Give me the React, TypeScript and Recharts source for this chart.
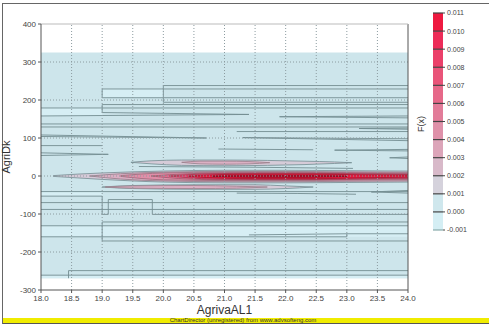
import React from 'react'
import { Area, ComposedChart, Label, Line, ReferenceLine, XAxis, YAxis } from 'recharts'

// axis ticks
const xTicks = [18, 18.5, 19, 19.5, 20, 20.5, 21, 21.5, 22, 22.5, 23, 23.5, 24]
const yTicks = [-300, -200, -100, 0, 100, 200, 300, 400]
const xGrid = [18.5, 19, 19.5, 20, 20.5, 21, 21.5, 22, 22.5, 23, 23.5]
const yGrid = [-200, -100, 0, 100, 200, 300]

// colour scale F(x)
const legendLevels = [-0.001, 0, 0.001, 0.002, 0.003, 0.004, 0.005, 0.006, 0.007, 0.008, 0.009, 0.01, 0.011]
const legendColors = [
  '#d4eef4', '#cfe7ed', '#d5d2dc', '#d8b9c9', '#dca5b9', '#df91a9', '#e27c99',
  '#e66889', '#e95479', '#eb4069', '#ed2c58', '#ee1a40',
]

// filled regions: [x, low, high]
const dataExtent: number[][] = [[18, -269, 325], [24, -269, 325]]
const lightBandA: number[][] = [[18, 158, 179], [19, 158, 179]]
const lightBandB: number[][] = [[19, 206, 229], [20, 206, 229]]
const lightBandC: number[][] = [[18, -53, -41], [19, -53, -41]]
const lightBandD: number[][] = [[18, -160, -131], [24, -160, -131]]
const lightBandE: number[][] = [[18, -269, -261], [24, -269, -261]]

const upperLens: number[][] = [[19.47, 36, 36], [19.8, 32, 40], [20.3, 28, 42], [21, 27, 42], [21.7, 28, 41], [22.3, 30, 39], [22.8, 33, 37], [23.08, 35, 35]]
const upperCore: number[][] = [[20.3, 36, 36], [20.6, 32, 39], [21, 31, 39], [21.4, 32, 38], [21.74, 35, 35]]
const lowerLens: number[][] = [[19, -29, -29], [19.5, -33, -25], [20.5, -35, -23], [21.5, -35, -23], [22, -33, -26], [22.45, -29, -29]]
const lowerCore: number[][] = [[19.05, -29, -29], [19.5, -32, -26], [20.5, -33, -25], [21.2, -32, -27], [21.7, -29, -29]]

const ridge1: number[][] = [[18.2, -1, 1], [18.6, -5, 5], [19, -9, 8], [19.5, -13, 11], [20, -16, 13], [21, -18, 15], [22, -18, 15], [23, -17, 14], [24, -16, 13]]
const ridge2: number[][] = [[18.8, 0, 0], [19.3, -8, 6], [20, -13, 10], [21, -15, 12], [22, -15, 12], [23, -14, 11], [24, -13, 10]]
const ridge3: number[][] = [[19.3, -1, 1], [20, -10, 8], [21, -12, 10], [22, -12, 10], [23, -11, 9], [24, -10, 8]]
const ridge4: number[][] = [[19.8, 0, 0], [20.4, -8, 6], [21, -10, 8], [22, -10, 8], [23, -9, 7], [24, -8, 6]]
const ridge5: number[][] = [[20.1, 0, 0], [20.8, -8, 6], [21.5, -9, 7], [22.5, -9, 7], [23.3, -7, 5], [24, -6, 4]]
const ridge6: number[][] = [[20.4, -1, 0], [21, -6, 4], [21.5, -7, 5], [22.5, -7, 5], [23.2, -5, 3], [24, -3, 2]]
const ridge7: number[][] = [[20.8, -1, 0], [21.5, -3, 1], [22.3, -3, 1], [23, -1, 0]]

// contour lines: [x, y]
const lineA: number[][] = [[24, 238], [20, 238], [20, 194], [24, 194]]
const lineB: number[][] = [[24, 229], [19, 229], [19, 206], [24, 206]]
const lineC: number[][] = [[24, 188], [19, 188], [19, 167], [21.4, 162], [18, 158]]
const lineD: number[][] = [[18, 179], [24, 179]]
const lineE: number[][] = [[24, 158], [21.9, 156], [24, 153]]
const lineF: number[][] = [[18, 137], [24, 137]]
const lineG: number[][] = [[18, 129], [24, 129]]
const lineH: number[][] = [[24, 126], [23.2, 125], [24, 123]]
const lineI: number[][] = [[21.2, 117], [24, 117]]
const lineJ: number[][] = [[18, 108], [20.7, 100], [18, 104]]
const lineK: number[][] = [[24, 98], [21.3, 101], [24, 93]]
const lineL: number[][] = [[18, 80], [19, 80]]
const lineM: number[][] = [[20.9, 71], [22.45, 69]]
const lineN: number[][] = [[24, 70], [22.8, 68], [24, 66]]
const lineO: number[][] = [[18, 61], [19.1, 57], [18, 54]]
const lineP: number[][] = [[24, 50], [23.7, 48], [24, 46]]
const lineQ: number[][] = [[19.6, 25], [21.5, 23], [23.1, 20]]
const lineR: number[][] = [[18, -41], [24, -41]]
const lineS: number[][] = [[24, -38], [23.4, -42], [24, -45]]
const lineT: number[][] = [[21.2, -45], [22.2, -46], [23.15, -48]]
const lineU: number[][] = [[18, -53], [19, -53], [19, -101], [19.1, -101], [19.1, -62], [19.82, -62], [19.82, -101], [24, -101]]
const lineV: number[][] = [[18, -70], [24, -70]]
const lineW: number[][] = [[18, -88], [24, -88]]
const lineX: number[][] = [[24, -121], [19, -121], [19, -171], [24, -171]]
const lineY: number[][] = [[18, -131], [24, -131]]
const lineZ: number[][] = [[18, -160], [23, -160], [23, -152], [24, -152]]
const lineZ2: number[][] = [[21.4, -155], [23, -152]]
const lineZ3: number[][] = [[24, -249], [18.45, -249], [18.45, -269]]
const lineZ4: number[][] = [[18, -261], [24, -261]]

const contourLines = [
  lineA, lineB, lineC, lineD, lineE, lineF, lineG, lineH, lineI, lineJ, lineK, lineL, lineM, lineN, lineO,
  lineP, lineQ, lineR, lineS, lineT, lineU, lineV, lineW, lineX, lineY, lineZ, lineZ2, lineZ3, lineZ4,
]

const BG = '#cde5eb'
const LIGHT = '#d6eef4'
const CONTOUR = '#748d92'

const fills: Array<[number[][], string, string]> = [
  [dataExtent, BG, 'none'],
  [lightBandA, LIGHT, 'none'],
  [lightBandB, LIGHT, 'none'],
  [lightBandC, LIGHT, 'none'],
  [lightBandD, LIGHT, 'none'],
  [lightBandE, LIGHT, 'none'],
  [upperLens, '#d6cbd8', CONTOUR],
  [upperCore, '#dcb0c4', '#9a7f8c'],
  [lowerLens, '#d6cbd8', CONTOUR],
  [lowerCore, '#dcb0c4', '#9a7f8c'],
  [ridge1, '#d6cad8', CONTOUR],
  [ridge2, '#dbaec3', '#927a86'],
  [ridge3, '#e08ea8', '#9a6a7a'],
  [ridge4, '#e66a8e', '#9a5a6c'],
  [ridge5, '#eb4270', '#a0384f'],
  [ridge6, '#e8193f', '#a01a30'],
  [ridge7, '#b3102c', '#8a0a20'],
]

const font = '"Liberation Sans", Arial, sans-serif'
const tickStyle = { fontSize: 8, fill: '#444', fontFamily: font }

export default function App() {
  return (
    <div style={{ position: 'absolute', left: 0, top: 0, width: 489, height: 324, background: '#fff', fontFamily: font }}>
      <div
        style={{
          position: 'absolute', left: 2, top: 3, width: 487, height: 321,
          borderTop: '1.5px solid #666', borderLeft: '1.5px solid #666', boxSizing: 'border-box',
        }}
      />
      <div style={{ position: 'absolute', left: 0, top: 0 }}>
        <ComposedChart width={489} height={324} margin={{ top: 24, right: 81, bottom: 4, left: 0 }}>
          <XAxis
            type="number"
            dataKey="x"
            domain={[18, 24]}
            ticks={xTicks}
            allowDataOverflow
            height={30}
            tickSize={3}
            tick={tickStyle}
            tickFormatter={(v: number) => v.toFixed(1)}
            stroke="#555"
          >
            <Label value="AgrivaAL1" position="insideBottom" offset={6} style={{ fontSize: 12, fill: '#333', fontFamily: font }} />
          </XAxis>
          <YAxis
            type="number"
            domain={[-300, 400]}
            ticks={yTicks}
            allowDataOverflow
            width={41}
            tickSize={3}
            tick={tickStyle}
            stroke="#555"
          >
            <Label value="AgriDk" angle={-90} position="insideLeft" offset={6} style={{ fontSize: 11, fill: '#333', fontFamily: font, textAnchor: 'middle' }} />
          </YAxis>
          {fills.map(([rows, fill, stroke], i) => (
            <Area
              key={'f' + i}
              data={rows.map(([x, lo, hi]) => ({ x, r: [lo, hi] }))}
              dataKey="r"
              type={stroke === 'none' ? 'linear' : 'monotone'}
              fill={fill}
              fillOpacity={1}
              stroke={stroke}
              strokeWidth={0.8}
              dot={false}
              activeDot={false}
              isAnimationActive={false}
            />
          ))}
          {contourLines.map((pts, i) => (
            <Line
              key={'c' + i}
              data={pts.map(([x, y]) => ({ x, y }))}
              dataKey="y"
              type="linear"
              stroke={CONTOUR}
              strokeWidth={0.9}
              dot={false}
              activeDot={false}
              isAnimationActive={false}
            />
          ))}
          {xGrid.map((v) => (
            <ReferenceLine key={'gx' + v} x={v} stroke="#8c9ca0" strokeDasharray="1 2" />
          ))}
          {yGrid.map((v) => (
            <ReferenceLine key={'gy' + v} y={v} stroke="#8c9ca0" strokeDasharray="1 2" />
          ))}
          <ReferenceLine x={24} stroke="#555" />
          <ReferenceLine y={400} stroke="#bbb" />
        </ComposedChart>
      </div>

      <div style={{ position: 'absolute', left: 400, top: 0 }}>
        <ComposedChart width={89} height={250} margin={{ top: 13, right: 6, bottom: 20, left: 33 }}>
          <XAxis type="number" dataKey="x" domain={[0, 1]} hide />
          <YAxis
            type="number"
            orientation="right"
            domain={[-0.001, 0.011]}
            ticks={legendLevels}
            allowDataOverflow
            width={40}
            tickSize={2}
            tickMargin={2}
            axisLine={false}
            tickLine={{ stroke: '#444' }}
            tick={{ fontSize: 7, fill: '#444', fontFamily: font }}
            tickFormatter={(v: number) => v.toFixed(3)}
          />
          {legendColors.map((c, i) => (
            <Area
              key={'la' + i}
              data={[
                { x: 0, r: [legendLevels[i], legendLevels[i + 1]] },
                { x: 1, r: [legendLevels[i], legendLevels[i + 1]] },
              ]}
              dataKey="r"
              type="linear"
              fill={c}
              fillOpacity={1}
              stroke="none"
              dot={false}
              activeDot={false}
              isAnimationActive={false}
            />
          ))}
          {legendLevels.map((v, i) => (
            <ReferenceLine key={'ll' + i} y={v} stroke={i === 0 ? '#8aa' : '#444'} strokeWidth={1.2} />
          ))}
        </ComposedChart>
      </div>
      <div
        style={{
          position: 'absolute', left: 421, top: 124, transform: 'translate(-50%, -50%) rotate(-90deg)',
          fontSize: 9, color: '#333', whiteSpace: 'nowrap',
        }}
      >
        F(x)
      </div>

      <div
        style={{
          position: 'absolute', left: 3, top: 318, width: 486, height: 5, background: '#f0ec00',
          borderBottom: '1.5px solid #555', fontSize: 6, lineHeight: '5px', textAlign: 'center', color: '#333',
          overflow: 'visible', whiteSpace: 'nowrap',
        }}
      >
        <span style={{ position: 'relative', left: -3 }}>ChartDirector (unregistered) from www.advsofteng.com</span>
      </div>
    </div>
  )
}
